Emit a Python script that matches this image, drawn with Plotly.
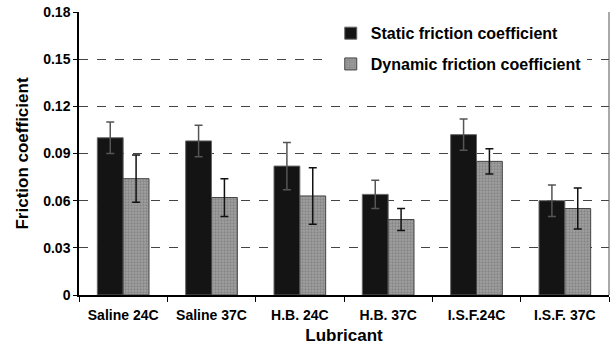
import plotly.graph_objects as go

categories = ["Saline 24C", "Saline 37C", "H.B. 24C", "H.B. 37C", "I.S.F.24C", "I.S.F. 37C"]
static_vals = [0.100, 0.098, 0.082, 0.064, 0.102, 0.060]
static_err = [0.010, 0.010, 0.015, 0.009, 0.010, 0.010]
dynamic_vals = [0.074, 0.062, 0.063, 0.048, 0.085, 0.055]
dynamic_err = [0.015, 0.012, 0.018, 0.007, 0.008, 0.013]
y_ticks = [0, 0.03, 0.06, 0.09, 0.12, 0.15, 0.18]
y_ticktext = ["0", "0.03", "0.06", "0.09", "0.12", "0.15", "0.18"]

FONT = "Arial, Liberation Sans, sans-serif"

fig = go.Figure()
fig.add_trace(go.Bar(
    x=categories, y=static_vals, name="Static friction coefficient",
    legendgroup="a",
    marker=dict(color="#141414", line=dict(color="#666", width=1)),
    error_y=dict(type="data", array=static_err, color="#555", thickness=1.5, width=4),
))
fig.add_trace(go.Bar(
    x=categories, y=dynamic_vals, name="Dynamic friction coefficient",
    legendgroup="b",
    marker=dict(color="#9a9a9a", line=dict(color="#444", width=1),
                pattern=dict(shape=".", bgcolor="#a0a0a0", fgcolor="#6a6a6a", size=3, solidity=0.45)),
    error_y=dict(type="data", array=dynamic_err, color="#111", thickness=1.5, width=4),
))

fig.update_layout(
    width=613, height=354,
    margin=dict(l=79, r=4, t=12, b=59),
    paper_bgcolor="white", plot_bgcolor="white",
    barmode="group", bargap=0.415, bargroupgap=0,
    font=dict(family=FONT, color="black"),
    showlegend=True,
    legend=dict(x=0.475, y=0.985, xanchor="left", yanchor="top",
                bgcolor="white", font=dict(size=16, family=FONT, color="black", weight="bold"),
                traceorder="grouped", tracegroupgap=7, itemwidth=30),
    xaxis=dict(
        type="category", range=[-0.5, 5.5],
        showline=True, linecolor="black", linewidth=1.5,
        ticks="outside", tickson="boundaries", ticklen=5, tickcolor="black",
        tickfont=dict(size=14, family=FONT, weight="bold"),
        ticklabelstandoff=6,
        title=dict(text="Lubricant", font=dict(size=17, family=FONT, weight="bold"), standoff=8),
        showgrid=False,
    ),
    yaxis=dict(
        range=[0, 0.18], tickvals=y_ticks, ticktext=y_ticktext,
        showline=True, linecolor="black", linewidth=1.5,
        ticks="outside", ticklen=4, tickcolor="black",
        tickfont=dict(size=14, family=FONT, weight="bold"),
        title=dict(text="Friction coefficient", font=dict(size=17, family=FONT, weight="bold"), standoff=10),
        showgrid=True, gridcolor="#444", griddash="dash", gridwidth=1,
        zeroline=False,
    ),
    shapes=[dict(type="line", xref="paper", yref="paper", x0=1, x1=1, y0=0, y1=1,
                 line=dict(color="#555", width=1))],
)

fig.write_html("out.html")
